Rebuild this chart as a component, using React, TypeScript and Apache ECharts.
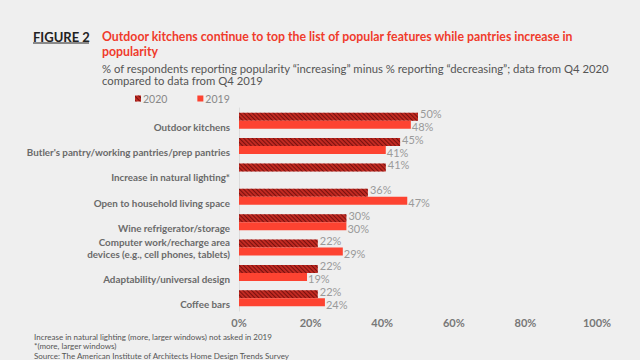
import React, { useEffect, useRef } from "react";
import * as echarts from "echarts";

const categories = [
  "Outdoor kitchens",
  "Butler's pantry/working pantries/prep pantries",
  "Increase in natural lighting*",
  "Open to household living space",
  "Wine refrigerator/storage",
  "Computer work/recharge area\ndevices (e.g., cell phones, tablets)",
  "Adaptability/universal design",
  "Coffee bars",
];
const values2020 = [50, 45, 41, 36, 30, 22, 22, 22];
const values2019: (number | null)[] = [48, 41, null, 47, 30, 29, 19, 24];
const xTicks = [0, 20, 40, 60, 80, 100];

const FONT = "Lato, 'Liberation Sans', sans-serif";

export default function App() {
  const ref = useRef<HTMLDivElement>(null);
  useEffect(() => {
    document.body.style.margin = "0";
    const chart = echarts.init(ref.current!, null, { renderer: "svg" });
    chart.setOption({
      animation: false,
      backgroundColor: "#efefef",
      legend: {
        data: ["2020", "2019"],
        left: 130,
        top: 88,
        itemWidth: 6,
        itemHeight: 6,
        itemGap: 30,
        icon: "rect",
        textStyle: { color: "#888", fontSize: 10.5, fontFamily: FONT, padding: [0, 0, 0, -3] },
      },
      grid: { left: 239, right: 43, top: 108, bottom: 49, containLabel: false },
      xAxis: {
        type: "value",
        min: xTicks[0],
        max: xTicks[xTicks.length - 1],
        interval: 20,
        axisLine: { show: false },
        axisTick: { show: false },
        splitLine: { show: false },
        axisLabel: {
          formatter: "{value}%",
          color: "#777",
          fontWeight: "bold",
          fontSize: 11,
          fontFamily: FONT,
          margin: 6,
        },
      },
      yAxis: {
        type: "category",
        data: categories,
        inverse: true,
        axisLine: { show: true, lineStyle: { color: "#dcdcdc" } },
        axisTick: { show: false },
        axisLabel: {
          color: "#6a6a6a",
          fontWeight: "bold",
          fontSize: 9.8,
          fontFamily: FONT,
          margin: 9,
          lineHeight: 12,
          formatter: (v: string) => (v.indexOf("\n") >= 0 ? v : "\n" + v),
        },
      },
      series: [
        {
          name: "2020",
          type: "bar",
          data: values2020,
          barWidth: 8,
          barGap: "0%",
          itemStyle: {
            color: "#c12a22",
            decal: {
              symbol: "rect",
              symbolSize: 1,
              color: "rgba(90,5,5,0.7)",
              dashArrayX: [1, 0],
              dashArrayY: [1, 2],
              rotation: Math.PI / 4,
            },
          },
          label: {
            show: true,
            position: "right",
            distance: 2,
            offset: [0, -3],
            formatter: "{c}%",
            color: "#9a9a9a",
            fontSize: 11,
            fontFamily: FONT,
          },
        },
        {
          name: "2019",
          type: "bar",
          data: values2019,
          barWidth: 8,
          itemStyle: { color: "#fd4331" },
          label: {
            show: true,
            position: "right",
            distance: 1,
            offset: [0, 2],
            formatter: "{c}%",
            color: "#9a9a9a",
            fontSize: 11,
            fontFamily: FONT,
          },
        },
      ],
      graphic: [
        {
          type: "text",
          x: 33,
          y: 36.5,
          style: {
            text: "FIGURE 2",
            fill: "#222",
            font: `bold 13px ${FONT}`,
            verticalAlign: "middle",
          },
        },
        {
          type: "line",
          shape: { x1: 33, y1: 43, x2: 89, y2: 43 },
          style: { stroke: "#222", lineWidth: 1 },
        },
        {
          type: "text",
          x: 102,
          y: 36,
          style: {
            text: "Outdoor kitchens continue to top the list of popular features while pantries increase in",
            fill: "#f03b2c",
            font: `bold 12.3px ${FONT}`,
            verticalAlign: "middle",
          },
        },
        {
          type: "text",
          x: 102,
          y: 51,
          style: {
            text: "popularity",
            fill: "#f03b2c",
            font: `bold 12.3px ${FONT}`,
            verticalAlign: "middle",
          },
        },
        {
          type: "text",
          x: 102,
          y: 68,
          style: {
            text: "% of respondents reporting popularity \u201cincreasing\u201d minus % reporting \u201cdecreasing\u201d; data from Q4 2020",
            fill: "#555",
            font: `11.3px ${FONT}`,
            verticalAlign: "middle",
          },
        },
        {
          type: "text",
          x: 102,
          y: 80.5,
          style: {
            text: "compared to data from Q4 2019",
            fill: "#555",
            font: `11.3px ${FONT}`,
            verticalAlign: "middle",
          },
        },
        {
          type: "text",
          x: 34,
          y: 336.5,
          style: {
            text: "Increase in natural lighting (more, larger windows) not asked in 2019",
            fill: "#555",
            font: `8px ${FONT}`,
            verticalAlign: "middle",
          },
        },
        {
          type: "text",
          x: 34,
          y: 346,
          style: {
            text: "*(more, larger windows)",
            fill: "#555",
            font: `8px ${FONT}`,
            verticalAlign: "middle",
          },
        },
        {
          type: "text",
          x: 34,
          y: 355.5,
          style: {
            text: "Source: The American Institute of Architects Home Design Trends Survey",
            fill: "#555",
            font: `8px ${FONT}`,
            verticalAlign: "middle",
          },
        },
      ],
    });
    return () => chart.dispose();
  }, []);
  return <div ref={ref} style={{ width: 640, height: 360 }} />;
}
